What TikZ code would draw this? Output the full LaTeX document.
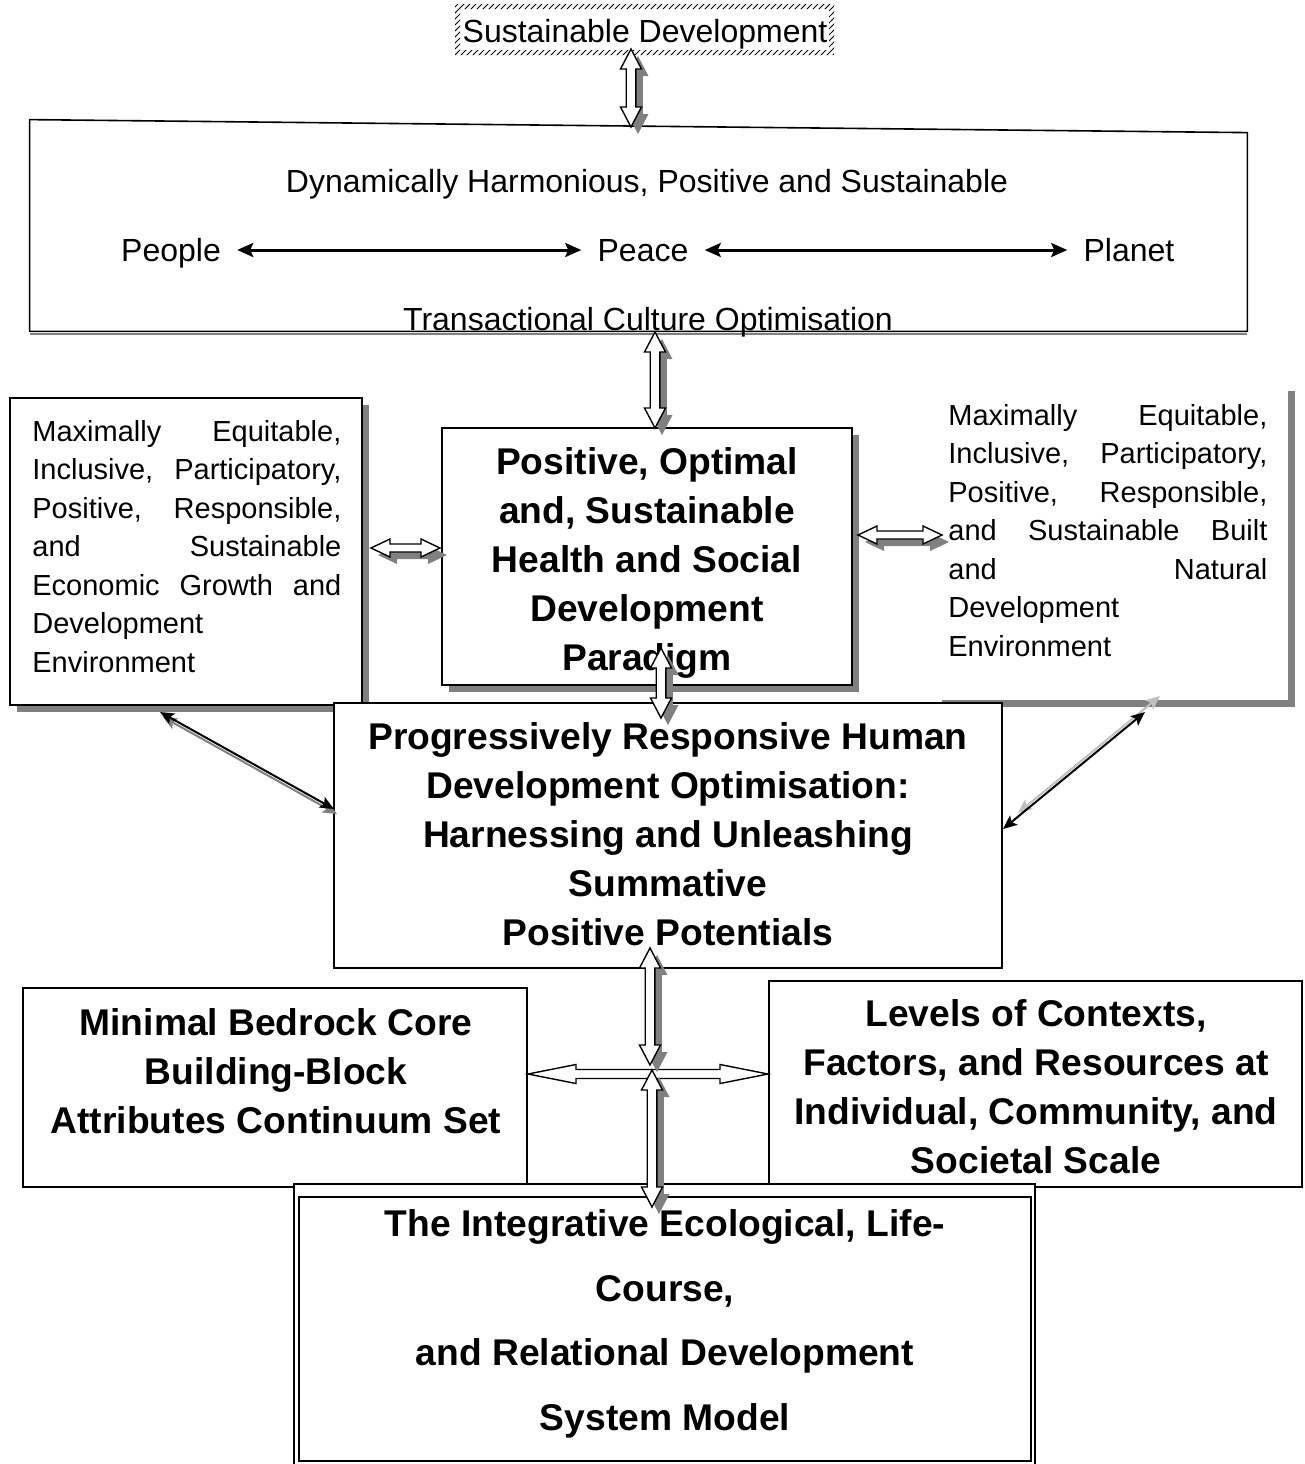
\documentclass[tikz,border=0pt]{standalone}
\usepackage{fontspec}
\setmainfont{Liberation Sans}
\usetikzlibrary{arrows.meta,calc,fit,shadows,patterns}

\definecolor{dropgray}{gray}{0.5}

\tikzset{
  box/.style={draw, line width=.7pt, fill=white, inner sep=0pt},
  shadowbox/.style={box, drop shadow={shadow xshift=3.5pt, shadow yshift=-3.5pt, fill=dropgray, opacity=1}},
  txt/.style={font=\fontsize{16}{19.25}\selectfont, inner sep=0pt},
  ppp/.style={txt, text height=12.5pt, text depth=1.5pt},
  side/.style={font=\fontsize{14.5}{19.25}\selectfont, inner sep=0pt, anchor=base west, align=left},
  heading/.style={font=\fontsize{18.6}{24.5}\selectfont\bfseries, inner sep=0pt, align=center},
  hollow/.style={draw, fill=white, line width=.7pt},
  hshade/.style={fill=dropgray, transform canvas={xshift=3.5pt, yshift=-3.5pt}},
  linkarrow/.style={line width=1.5pt, {Stealth[length=8pt,width=7pt,inset=1.5pt]}-{Stealth[length=8pt,width=7pt,inset=1.5pt]}, shorten <=8pt, shorten >=8pt},
  diagarrow/.style={line width=1pt, {Stealth[length=7pt,width=6pt,inset=1.5pt]}-{Stealth[length=7pt,width=6pt,inset=1.5pt]}},
}

% hollow block arrows (#1 style, #2 and #3 the tips)
\newcommand{\vpoly}[3]{%
  \path[#1] let \p1=(#2), \p2=(#3) in
    (\x1,\y1) -- (\x1+5.25pt,\y1-10pt) -- (\x1+2.4pt,\y1-10pt)
    -- (\x1+2.4pt,\y2+10pt) -- (\x1+5.25pt,\y2+10pt) -- (\x1,\y2)
    -- (\x1-5.25pt,\y2+10pt) -- (\x1-2.4pt,\y2+10pt)
    -- (\x1-2.4pt,\y1-10pt) -- (\x1-5.25pt,\y1-10pt) -- cycle;}
\newcommand{\hpoly}[6]{%
  \path[#1] let \p1=(#2), \p2=(#3) in
    (\x1,\y1) -- (\x1+#4,\y1+#5) -- (\x1+#4,\y1+#6)
    -- (\x2-#4,\y1+#6) -- (\x2-#4,\y1+#5) -- (\x2,\y1)
    -- (\x2-#4,\y1-#5) -- (\x2-#4,\y1-#6)
    -- (\x1+#4,\y1-#6) -- (\x1+#4,\y1-#5) -- cycle;}
\newcommand{\vblock}[2]{\vpoly{hshade}{#1}{#2}\vpoly{hollow}{#1}{#2}}
\newcommand{\hblock}[2]{\hpoly{hshade}{#1}{#2}{9.5pt}{4.5pt}{2pt}\hpoly{hollow}{#1}{#2}{9.5pt}{4.5pt}{2pt}}

\begin{document}
\begin{tikzpicture}[x=.5pt, y=-.5pt]
\useasboundingbox (0,0) rectangle (1305,1464);

% banner
\fill[pattern=north east lines, pattern color=black, even odd rule] (455,4) rectangle (834,55) (460,9) rectangle (829,50);
\node[txt, anchor=base] (sd) at (645,42) {Sustainable Development};

% top frame
\node[fit={(30,120) (1247,331)}, inner sep=0pt] (pact) {};
\draw[line width=.8pt] (pact.north west) -- ($(pact.north east)+(0,13)$) -- (pact.south east) -- (pact.south west) -- cycle;
\draw[dropgray, line width=.8pt] ([yshift=-1.2pt]pact.south west) -- ([yshift=-1.2pt]pact.south east);
\node[txt, anchor=base] (dhps) at (647,192) {Dynamically Harmonious, Positive and Sustainable};
\node[ppp, anchor=base] (people) at (171,261) {People};
\node[ppp, anchor=base] (peace) at (643,261) {Peace};
\node[ppp, anchor=base] (planet) at (1129,261) {Planet};
\node[txt, anchor=base] (tco) at (648,330) {Transactional Culture Optimisation};
\draw[linkarrow] (people) -- (peace);
\draw[linkarrow] (peace) -- (planet);

\coordinate (sdA) at (631,49);
\coordinate (pactA) at (631,127);
\vblock{sdA}{pactA}

% middle row
\node[shadowbox, fit={(10,398) (362,705)}] (econ) {};
\node[side, text width=154.5pt] (econtxt) at (32,441) {Maximally\hfill Equitable,\\
Inclusive,\hfill Participatory,\\
Positive,\hfill Responsible,\\
and\hfill Sustainable\\
Economic\hfill Growth\hfill and\\
Development\\
Environment};

\node[shadowbox, fit={(442,428) (852,685)}] (para) {};
\node[heading] (paratxt) at (647,563) {Positive, Optimal\\and, Sustainable\\Health and Social\\Development\\Paradigm};

\node[shadowbox, draw=none, fit={(935,384) (1288,700)}] (envi) {};
\node[side, text width=159.5pt] (envitxt) at (948,425) {Maximally\hfill Equitable,\\
Inclusive,\hfill Participatory,\\
Positive,\hfill Responsible,\\
and\hfill Sustainable\hfill Built\\
and\hfill Natural\\
Development\\
Environment};

\coordinate (pactB) at (655,332);
\coordinate (paraA) at (655,428);
\vblock{pactB}{paraA}

\coordinate (econA) at (371,548);
\coordinate (paraW) at (440,548);
\hblock{econA}{paraW}
\coordinate (paraE) at (858,535);
\coordinate (enviA) at (942,535);
\hblock{paraE}{enviA}

% centre
\node[box, fit={(334,703) (1002,968)}] (hdo) {};
\node[heading] (hdotxt) at (668,834) {Progressively Responsive Human\\Development Optimisation:\\Harnessing and Unleashing\\Summative\\Positive Potentials};

\coordinate (paraB) at (661,648);
\coordinate (hdoA) at (661,718);
\vblock{paraB}{hdoA}

\coordinate (econC) at (160,712);
\coordinate (hdoW) at (334,809);
\draw[diagarrow, dropgray, transform canvas={xshift=1.5pt, yshift=-2.5pt}] (econC) -- (hdoW);
\draw[diagarrow] (econC) -- (hdoW);
\coordinate (enviC) at (1145,712);
\coordinate (hdoE) at (1003,829);
\draw[diagarrow, black!25, transform canvas={xshift=7.5pt, yshift=8pt}] (enviC) -- (hdoE);
\draw[diagarrow] (enviC) -- (hdoE);

% bottom row
\node[box, fit={(23,988) (527,1187)}] (core) {};
\node[heading] (coretxt) at (276,1071) {Minimal Bedrock Core\\Building-Block\\Attributes Continuum Set};
\node[box, fit={(769,981) (1302,1187)}] (lvls) {};
\node[heading] (lvlstxt) at (1036,1087) {Levels of Contexts,\\Factors, and Resources at\\Individual, Community, and\\Societal Scale};

\coordinate (coreE) at (528,1074);
\coordinate (lvlsW) at (768,1074);
\hpoly{hollow}{coreE}{lvlsW}{24pt}{4.75pt}{2.25pt}

\coordinate (hdoB) at (650,948);
\coordinate (cross) at (650,1065);
\vblock{hdoB}{cross}

% model
\fill[white] (294,1184) rectangle (1035,1464);
\draw[line width=.7pt] (294,1470) -- (294,1184) -- (1035,1184) -- (1035,1470);
\node[box, line width=1.4pt, fit={(299,1197) (1031,1461)}] (model) {};
\node[heading, font=\fontsize{18.6}{32.3}\selectfont\bfseries] (modeltxt) at (665,1324) {The Integrative Ecological, Life-\\Course,\\and Relational Development\\System Model};

\coordinate (crossB) at (652,1070);
\coordinate (modelA) at (652,1207);
\vblock{crossB}{modelA}

\end{tikzpicture}
\end{document}
